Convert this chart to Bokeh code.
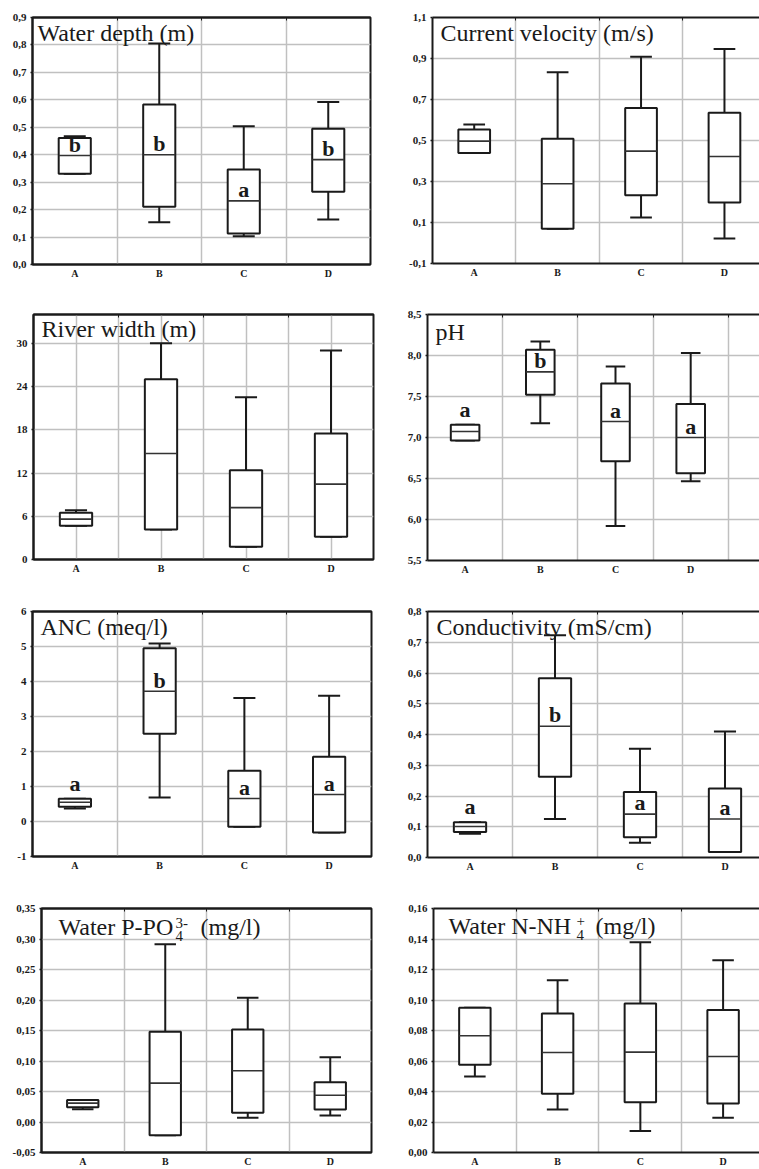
from bokeh.plotting import figure
from bokeh.layouts import column, row
from bokeh.models import Range1d, FixedTicker, CustomJSTickFormatter, Label, LinearAxis
from bokeh.embed import file_html
from bokeh.resources import INLINE

categories = ["A", "B", "C", "D"]

# ---- Water depth (m)
depth_low = [0.331, 0.154, 0.103, 0.164]
depth_q1 = [0.331, 0.210, 0.113, 0.265]
depth_med = [0.397, 0.400, 0.232, 0.382]
depth_q3 = [0.461, 0.583, 0.346, 0.495]
depth_high = [0.467, 0.805, 0.504, 0.592]
depth_letters = ["b", "b", "a", "b"]
depth_ticks = [0.0, 0.1, 0.2, 0.3, 0.4, 0.5, 0.6, 0.7, 0.8, 0.9]

# ---- Current velocity (m/s)
vel_low = [0.439, 0.069, 0.124, 0.022]
vel_q1 = [0.439, 0.069, 0.233, 0.198]
vel_med = [0.497, 0.289, 0.448, 0.422]
vel_q3 = [0.554, 0.508, 0.659, 0.635]
vel_high = [0.578, 0.833, 0.909, 0.946]
vel_letters = []
vel_ticks = [-0.1, 0.1, 0.3, 0.5, 0.7, 0.9, 1.1]

# ---- River width (m)
width_low = [4.68, 4.17, 1.76, 3.15]
width_q1 = [4.68, 4.17, 1.76, 3.15]
width_med = [5.6, 14.7, 7.2, 10.46]
width_q3 = [6.48, 25.0, 12.4, 17.5]
width_high = [6.85, 30.0, 22.5, 29.0]
width_letters = []
width_ticks = [0, 6, 12, 18, 24, 30]

# ---- pH
ph_low = [6.963, 7.175, 5.92, 6.467]
ph_q1 = [6.963, 7.52, 6.71, 6.565]
ph_med = [7.073, 7.80, 7.195, 7.0]
ph_q3 = [7.155, 8.07, 7.66, 7.41]
ph_high = [7.155, 8.17, 7.866, 8.03]
ph_letters = ["a", "b", "a", "a"]
ph_ticks = [5.5, 6.0, 6.5, 7.0, 7.5, 8.0, 8.5]

# ---- ANC (meq/l)
anc_low = [0.37, 0.686, -0.152, -0.314]
anc_q1 = [0.42, 2.51, -0.152, -0.314]
anc_med = [0.55, 3.72, 0.657, 0.77]
anc_q3 = [0.65, 4.95, 1.45, 1.85]
anc_high = [0.65, 5.086, 3.53, 3.59]
anc_letters = ["a", "b", "a", "a"]
anc_ticks = [-1, 0, 1, 2, 3, 4, 5, 6]

# ---- Conductivity (mS/cm)
cond_low = [0.077, 0.125, 0.048, 0.018]
cond_q1 = [0.083, 0.263, 0.066, 0.018]
cond_med = [0.101, 0.427, 0.141, 0.125]
cond_q3 = [0.115, 0.583, 0.213, 0.224]
cond_high = [0.115, 0.723, 0.354, 0.410]
cond_letters = ["a", "b", "a", "a"]
cond_ticks = [0.0, 0.1, 0.2, 0.3, 0.4, 0.5, 0.6, 0.7, 0.8]

# ---- Water P-PO4 3- (mg/l)
po4_low = [0.021, -0.0218, 0.0069, 0.0107]
po4_q1 = [0.0243, -0.0218, 0.015, 0.0205]
po4_med = [0.031, 0.0638, 0.0839, 0.0438]
po4_q3 = [0.036, 0.148, 0.1516, 0.065]
po4_high = [0.036, 0.2915, 0.2037, 0.106]
po4_letters = []
po4_ticks = [-0.05, 0.0, 0.05, 0.10, 0.15, 0.20, 0.25, 0.30, 0.35]

# ---- Water N-NH4 + (mg/l)
nh4_low = [0.0499, 0.0282, 0.0141, 0.0228]
nh4_q1 = [0.0575, 0.0386, 0.033, 0.0321]
nh4_med = [0.0766, 0.0656, 0.0658, 0.063]
nh4_q3 = [0.0949, 0.0912, 0.0977, 0.0934]
nh4_high = [0.0949, 0.113, 0.1379, 0.126]
nh4_letters = []
nh4_ticks = [0.0, 0.02, 0.04, 0.06, 0.08, 0.10, 0.12, 0.14, 0.16]

SERIF = "Liberation Serif"
INK = "#1a1a1a"
GRID = "#c0c0c0"
BOX_W = 0.38
CAP_W = 0.26
BASE_FIX = 0.42  # label baseline correction, fraction of font size

panels = [
    dict(data=(depth_low, depth_q1, depth_med, depth_q3, depth_high), letters=depth_letters,
         ticks=depth_ticks, dec=1, yr=(0.0, 0.9),
         title=[("Water depth (m)", 5, 26, 24)],
         lay=(32, 338, 9, 16, 247, 27, 4.0), left=True, vgrid=[1, 2, 3]),
    dict(data=(vel_low, vel_q1, vel_med, vel_q3, vel_high), letters=vel_letters,
         ticks=vel_ticks, dec=1, yr=(-0.1, 1.1),
         title=[("Current velocity (m/s)", 8, 26, 24)],
         lay=(53, 327, 0, 17, 246, 27, 3.92), left=False, vgrid=[1, 2, 3]),
    dict(data=(width_low, width_q1, width_med, width_q3, width_high), letters=width_letters,
         ticks=width_ticks, dec=0, yr=(0, 34),
         title=[("River width (m)", 8, 25, 24)],
         lay=(33, 340, 6, 24, 245, 21, 4.0), left=True,
         vgrid=[0.5, 1, 1.5, 2, 2.5, 3, 3.5]),
    dict(data=(ph_low, ph_q1, ph_med, ph_q3, ph_high), letters=ph_letters,
         ticks=ph_ticks, dec=1, yr=(5.5, 8.5),
         title=[("pH", 8, 28, 24)],
         lay=(48, 332, 0, 24, 246, 20, 4.415), left=False, vgrid=[1, 2, 3, 4]),
    dict(data=(anc_low, anc_q1, anc_med, anc_q3, anc_high), letters=anc_letters,
         ticks=anc_ticks, dec=0, yr=(-1, 6),
         title=[("ANC (meq/l)", 8, 26, 24)],
         lay=(32, 339, 8, 31, 245, 18, 4.0), left=True, vgrid=[1, 2, 3]),
    dict(data=(cond_low, cond_q1, cond_med, cond_q3, cond_high), letters=cond_letters,
         ticks=cond_ticks, dec=1, yr=(0.0, 0.8),
         title=[("Conductivity (mS/cm)", 9, 26, 24)],
         lay=(48, 332, 0, 31, 246, 17, 3.906), left=False, vgrid=[1, 2, 3]),
    dict(data=(po4_low, po4_q1, po4_med, po4_q3, po4_high), letters=po4_letters,
         ticks=po4_ticks, dec=2, yr=(-0.05, 0.35),
         title=[("Water P-PO", 17, 29, 24), ("4", 134, 34, 15), ("3-", 134, 21, 15),
                ("(mg/l)", 159, 29, 24)],
         lay=(41, 330, 8, 34, 244, 16, 4.0), left=True, vgrid=[1, 2, 3]),
    dict(data=(nh4_low, nh4_q1, nh4_med, nh4_q3, nh4_high), letters=nh4_letters,
         ticks=nh4_ticks, dec=2, yr=(0.0, 0.16),
         title=[("Water N-NH", 15, 28, 24), ("4", 143, 33, 15), ("+", 143, 19, 15),
                ("(mg/l)", 162, 28, 24)],
         lay=(54, 326, 0, 34, 244, 16, 3.94), left=False, vgrid=[1, 2, 3]),
]


def make_panel(cfg):
    ml, fw, mr, mt, fh, mb, xend = cfg["lay"]
    y0, y1 = cfg["yr"]
    p = figure(frame_width=fw, frame_height=fh,
               min_border_left=ml, min_border_right=mr,
               min_border_top=mt, min_border_bottom=mb,
               x_range=Range1d(0, xend), y_range=Range1d(y0, y1),
               output_backend="svg", toolbar_location=None,
               background_fill_color="white", border_fill_color="white")
    p.title.visible = False
    p.outline_line_color = INK if cfg["left"] else None
    p.outline_line_width = 2

    xs = [i + 0.5 for i in range(len(categories))]

    # axes
    p.xaxis.ticker = FixedTicker(ticks=xs)
    p.xaxis.formatter = CustomJSTickFormatter(args=dict(cats=categories),
                                              code="return cats[Math.floor(tick)];")
    p.yaxis.ticker = FixedTicker(ticks=cfg["ticks"])
    p.yaxis.formatter = CustomJSTickFormatter(
        args=dict(n=cfg["dec"]),
        code="return tick.toFixed(n).replace('.', ',');")
    for ax in (p.xaxis[0], p.yaxis[0]):
        ax.axis_line_width = 2
        ax.axis_line_color = INK
        ax.major_tick_line_color = None
        ax.minor_tick_line_color = None
        ax.major_tick_out = 0
        ax.major_tick_in = 0
        ax.minor_tick_out = 0
        ax.minor_tick_in = 0
        ax.major_label_text_font = SERIF
        ax.major_label_text_font_style = "bold"
        ax.major_label_text_color = INK
    p.yaxis.major_tick_line_color = INK
    p.yaxis.major_tick_line_width = 1.5
    p.yaxis.major_tick_out = 2
    p.yaxis.major_label_text_font_size = "11px"
    p.yaxis.major_label_standoff = 4
    p.xaxis.major_label_text_font_size = "10px"
    p.xaxis.major_label_standoff = 3

    top = LinearAxis(ticker=FixedTicker(ticks=[1, 2, 3, 4]),
                     formatter=CustomJSTickFormatter(code="return '';"),
                     major_label_text_font_size="0px", major_label_standoff=0,
                     major_tick_in=3, major_tick_out=0,
                     minor_tick_in=0, minor_tick_out=0,
                     major_tick_line_color=INK, minor_tick_line_color=None,
                     axis_line_width=2, axis_line_color=INK)
    p.add_layout(top, "above")

    # grid
    p.xgrid.ticker = FixedTicker(ticks=cfg["vgrid"])
    for g in (p.xgrid[0], p.ygrid[0]):
        g.grid_line_color = GRID
        g.grid_line_width = 1.5

    low, q1, med, q3, high = cfg["data"]
    p.segment(x0=xs, y0=low, x1=xs, y1=high, line_color=INK, line_width=2)
    cap_l = [x - CAP_W / 2 for x in xs]
    cap_r = [x + CAP_W / 2 for x in xs]
    p.segment(x0=cap_l, y0=high, x1=cap_r, y1=high, line_color=INK, line_width=2)
    p.segment(x0=cap_l, y0=low, x1=cap_r, y1=low, line_color=INK, line_width=2)
    p.vbar(x=xs, width=BOX_W, bottom=q1, top=q3, fill_color="white",
           line_color=INK, line_width=2)
    box_l = [x - BOX_W / 2 for x in xs]
    box_r = [x + BOX_W / 2 for x in xs]
    p.segment(x0=box_l, y0=med, x1=box_r, y1=med, line_color="#333333", line_width=1.6)

    # significance letters
    ppu = fh / (y1 - y0)
    for i, letter in enumerate(cfg["letters"]):
        if (q3[i] - med[i]) * ppu < 15:
            yy, off = q3[i], 6
        else:
            yy, off = med[i], 2
        p.add_layout(Label(x=xs[i], y=yy, y_offset=off + BASE_FIX * 22, text=letter,
                           text_align="center", text_baseline="alphabetic",
                           text_font=SERIF, text_font_style="bold",
                           text_font_size="22px", text_color=INK))

    # in-plot title
    for txt, dx, dy, size in cfg["title"]:
        p.add_layout(Label(x=0, y=y1, x_offset=dx, y_offset=-(dy - BASE_FIX * size),
                           text=txt, text_align="left", text_baseline="alphabetic",
                           text_font=SERIF, text_font_size=f"{size}px",
                           text_color=INK))
    return p


figs = [make_panel(c) for c in panels]
layout = column(row(figs[0], figs[1]), row(figs[2], figs[3]),
                row(figs[4], figs[5]), row(figs[6], figs[7]))

open("out.html", "w").write(file_html(layout, INLINE))
